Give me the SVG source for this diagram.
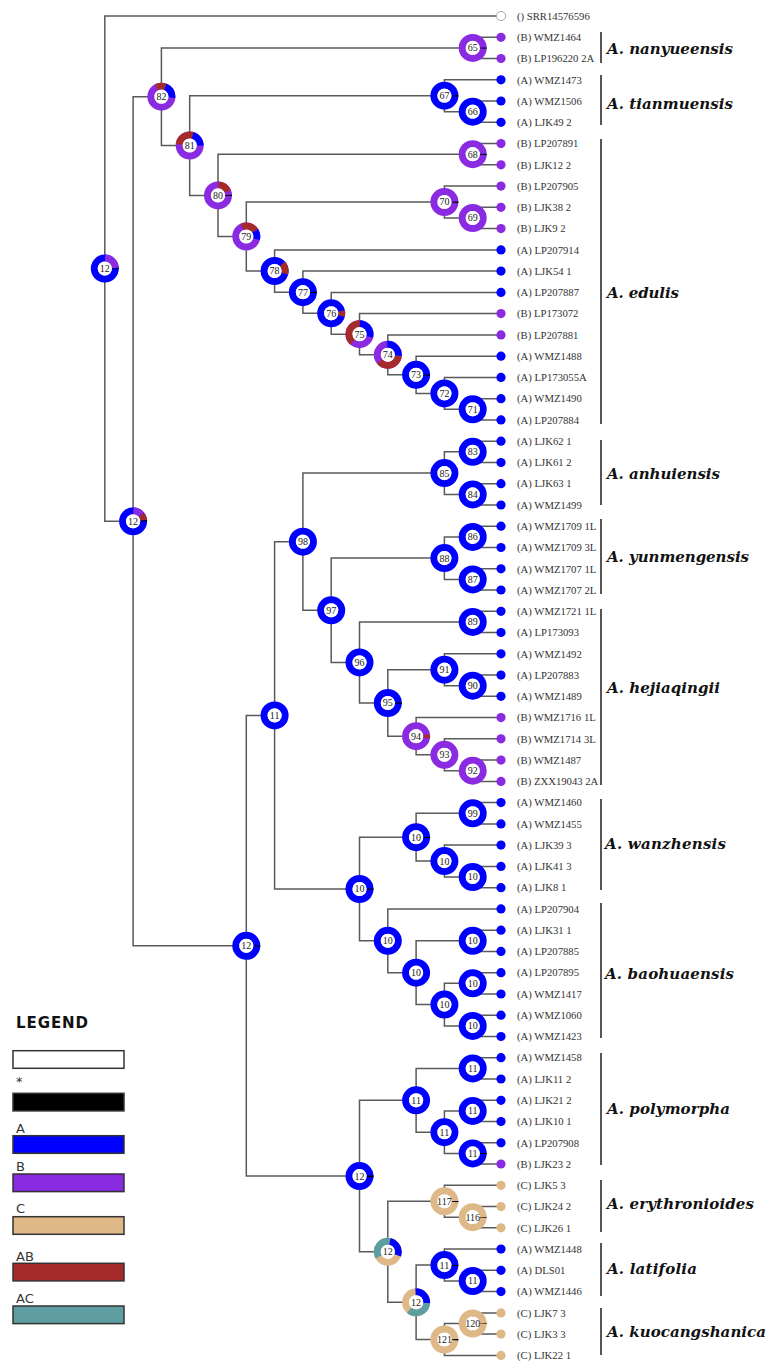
<svg xmlns="http://www.w3.org/2000/svg" width="769" height="1361" viewBox="0 0 769 1361">
<style>
.c{stroke:#5a5a5a;stroke-width:1.5;fill:none}
.r{fill:none;stroke-width:7}
.A{stroke:#0000ff}.B{stroke:#8a2be2}.C{stroke:#deb887}.AB{stroke:#a52a2a}.AC{stroke:#5f9ea0}.K{stroke:#000}
.w{fill:#fff}
.nl{font-family:"Liberation Serif",serif;font-size:10px;fill:#222;text-anchor:middle}
.lf{font-family:"Liberation Serif",serif;font-size:10.7px;fill:#333}
.fA{fill:#0000ff}.fB{fill:#8a2be2}.fC{fill:#deb887}
.sp{font-family:"DejaVu Serif",serif;font-weight:bold;font-style:italic;font-size:15px;fill:#111}
.bar{stroke:#555;stroke-width:2}
.lg{font-family:"DejaVu Sans",sans-serif;font-size:13px;fill:#333}
.box{stroke:#333;stroke-width:1.5}
</style>
<rect width="769" height="1361" fill="#fff"/>
<g id="connectors">
<path class="c" d="M501 16 H104.8 V521.3 H133.1"/>
<path class="c" d="M161.4 96.7 H133.1 V945.8 H246.3"/>
<path class="c" d="M472.7 47.9 H161.4 V145.5 H189.7"/>
<path class="c" d="M501 37.3 H472.7 V58.5 H501"/>
<path class="c" d="M444.4 95.7 H189.7 V195.4 H218"/>
<path class="c" d="M501 79.8 H444.4 V111.7 H472.7"/>
<path class="c" d="M501 101 H472.7 V122.3 H501"/>
<path class="c" d="M472.7 154.2 H218 V236.5 H246.3"/>
<path class="c" d="M501 143.6 H472.7 V164.8 H501"/>
<path class="c" d="M444.4 202 H246.3 V271 H274.6"/>
<path class="c" d="M501 186.1 H444.4 V218 H472.7"/>
<path class="c" d="M501 207.3 H472.7 V228.6 H501"/>
<path class="c" d="M501 249.9 H274.6 V292.2 H302.9"/>
<path class="c" d="M501 271.1 H302.9 V313.3 H331.2"/>
<path class="c" d="M501 292.4 H331.2 V334.2 H359.5"/>
<path class="c" d="M501 313.6 H359.5 V354.8 H387.8"/>
<path class="c" d="M501 334.9 H387.8 V374.8 H416.1"/>
<path class="c" d="M501 356.2 H416.1 V393.4 H444.4"/>
<path class="c" d="M501 377.4 H444.4 V409.3 H472.7"/>
<path class="c" d="M501 398.7 H472.7 V419.9 H501"/>
<path class="c" d="M274.6 715.4 H246.3 V1176.1 H359.5"/>
<path class="c" d="M302.9 541.7 H274.6 V889 H359.5"/>
<path class="c" d="M444.4 473.1 H302.9 V610.3 H331.2"/>
<path class="c" d="M472.7 451.8 H444.4 V494.4 H472.7"/>
<path class="c" d="M501 441.2 H472.7 V462.5 H501"/>
<path class="c" d="M501 483.7 H472.7 V505 H501"/>
<path class="c" d="M444.4 558.1 H331.2 V662.4 H359.5"/>
<path class="c" d="M472.7 536.9 H444.4 V579.4 H472.7"/>
<path class="c" d="M501 526.2 H472.7 V547.5 H501"/>
<path class="c" d="M501 568.8 H472.7 V590 H501"/>
<path class="c" d="M472.7 621.9 H359.5 V703 H387.8"/>
<path class="c" d="M501 611.3 H472.7 V632.5 H501"/>
<path class="c" d="M444.4 669.7 H387.8 V736.2 H416.1"/>
<path class="c" d="M501 653.8 H444.4 V685.7 H472.7"/>
<path class="c" d="M501 675.1 H472.7 V696.3 H501"/>
<path class="c" d="M501 717.6 H416.1 V754.8 H444.4"/>
<path class="c" d="M501 738.8 H444.4 V770.7 H472.7"/>
<path class="c" d="M501 760.1 H472.7 V781.4 H501"/>
<path class="c" d="M416.1 837.2 H359.5 V940.8 H387.8"/>
<path class="c" d="M472.7 813.3 H416.1 V861.1 H444.4"/>
<path class="c" d="M501 802.6 H472.7 V823.9 H501"/>
<path class="c" d="M501 845.1 H444.4 V877 H472.7"/>
<path class="c" d="M501 866.4 H472.7 V887.7 H501"/>
<path class="c" d="M501 908.9 H387.8 V972.7 H416.1"/>
<path class="c" d="M472.7 940.8 H416.1 V1004.6 H444.4"/>
<path class="c" d="M501 930.2 H472.7 V951.4 H501"/>
<path class="c" d="M472.7 983.3 H444.4 V1025.9 H472.7"/>
<path class="c" d="M501 972.7 H472.7 V994 H501"/>
<path class="c" d="M501 1015.2 H472.7 V1036.5 H501"/>
<path class="c" d="M416.1 1100.3 H359.5 V1251.8 H387.8"/>
<path class="c" d="M472.7 1068.4 H416.1 V1132.2 H444.4"/>
<path class="c" d="M501 1057.7 H472.7 V1079 H501"/>
<path class="c" d="M472.7 1110.9 H444.4 V1153.4 H472.7"/>
<path class="c" d="M501 1100.3 H472.7 V1121.5 H501"/>
<path class="c" d="M501 1142.8 H472.7 V1164 H501"/>
<path class="c" d="M444.4 1201.3 H387.8 V1302.3 H416.1"/>
<path class="c" d="M501 1185.3 H444.4 V1217.2 H472.7"/>
<path class="c" d="M501 1206.6 H472.7 V1227.8 H501"/>
<path class="c" d="M444.4 1265.1 H416.1 V1339.5 H444.4"/>
<path class="c" d="M501 1249.1 H444.4 V1281 H472.7"/>
<path class="c" d="M501 1270.3 H472.7 V1291.6 H501"/>
<path class="c" d="M472.7 1323.5 H444.4 V1355.4 H501"/>
<path class="c" d="M501 1312.9 H472.7 V1334.1 H501"/>
</g>

<!-- internal nodes -->
<g id="n-root"><circle class="r A" cx="104.8" cy="268.6" r="10.5"/><circle class="r B" cx="104.8" cy="268.6" r="10.5" stroke-dasharray="15.39 50.58" stroke-dashoffset="-49.48"/><circle class="r K" cx="104.8" cy="268.6" r="10.5" stroke-dasharray="1.28 64.69" stroke-dashoffset="-64.87"/><circle class="w" cx="104.8" cy="268.6" r="7.1"/><text class="nl" x="104.8" y="272">12</text></g>
<g id="n-12b"><circle class="r A" cx="133.1" cy="521.3" r="10.5"/><circle class="r B" cx="133.1" cy="521.3" r="10.5" stroke-dasharray="9.16 56.81" stroke-dashoffset="-49.48"/><circle class="r AB" cx="133.1" cy="521.3" r="10.5" stroke-dasharray="5.86 60.11" stroke-dashoffset="-58.64"/><circle class="r K" cx="133.1" cy="521.3" r="10.5" stroke-dasharray="1.28 64.69" stroke-dashoffset="-64.51"/><circle class="w" cx="133.1" cy="521.3" r="7.1"/><text class="nl" x="133.1" y="524.7">12</text></g>
<g id="n82"><circle class="r B" cx="161.4" cy="96.7" r="10.5"/><circle class="r AB" cx="161.4" cy="96.7" r="10.5" stroke-dasharray="9.16 56.81" stroke-dashoffset="-43.98"/><circle class="r A" cx="161.4" cy="96.7" r="10.5" stroke-dasharray="13.74 52.23" stroke-dashoffset="-53.15"/><circle class="w" cx="161.4" cy="96.7" r="7.1"/><text class="nl" x="161.4" y="100.1">82</text></g>
<g id="n81"><circle class="r B" cx="189.7" cy="145.5" r="10.5"/><circle class="r AB" cx="189.7" cy="145.5" r="10.5" stroke-dasharray="18.33 47.64" stroke-dashoffset="-33.90"/><circle class="r A" cx="189.7" cy="145.5" r="10.5" stroke-dasharray="13.74 52.23" stroke-dashoffset="-52.23"/><circle class="w" cx="189.7" cy="145.5" r="7.1"/><text class="nl" x="189.7" y="148.9">81</text></g>
<g id="n80"><circle class="r B" cx="218" cy="195.4" r="10.5"/><circle class="r AB" cx="218" cy="195.4" r="10.5" stroke-dasharray="11.91 54.06" stroke-dashoffset="-49.48"/><circle class="r K" cx="218" cy="195.4" r="10.5" stroke-dasharray="1.47 64.5" stroke-dashoffset="-65.06"/><circle class="w" cx="218" cy="195.4" r="7.1"/><text class="nl" x="218" y="198.8">80</text></g>
<g id="n79"><circle class="r B" cx="246.3" cy="236.5" r="10.5"/><circle class="r AB" cx="246.3" cy="236.5" r="10.5" stroke-dasharray="14.66 51.31" stroke-dashoffset="-44.90"/><circle class="r A" cx="246.3" cy="236.5" r="10.5" stroke-dasharray="9.16 56.81" stroke-dashoffset="-59.56"/><circle class="w" cx="246.3" cy="236.5" r="7.1"/><text class="nl" x="246.3" y="239.9">79</text></g>
<g id="n78"><circle class="r A" cx="274.6" cy="271" r="10.5"/><circle class="r AB" cx="274.6" cy="271" r="10.5" stroke-dasharray="11 54.97" stroke-dashoffset="-57.73"/><circle class="w" cx="274.6" cy="271" r="7.1"/><text class="nl" x="274.6" y="274.4">78</text></g>
<g id="n77"><circle class="r A" cx="302.9" cy="292.2" r="10.5"/><circle class="r K" cx="302.9" cy="292.2" r="10.5" stroke-dasharray="1.47 64.5" stroke-dashoffset="-65.24"/><circle class="w" cx="302.9" cy="292.2" r="7.1"/><text class="nl" x="302.9" y="295.6">77</text></g>
<g id="n76"><circle class="r A" cx="331.2" cy="313.3" r="10.5"/><circle class="r AB" cx="331.2" cy="313.3" r="10.5" stroke-dasharray="5.5 60.47" stroke-dashoffset="-63.22"/><circle class="w" cx="331.2" cy="313.3" r="7.1"/><text class="nl" x="331.2" y="316.7">76</text></g>
<g id="n75"><circle class="r B" cx="359.5" cy="334.2" r="10.5"/><circle class="r AB" cx="359.5" cy="334.2" r="10.5" stroke-dasharray="25.66 40.31" stroke-dashoffset="-23.82"/><circle class="r A" cx="359.5" cy="334.2" r="10.5" stroke-dasharray="19.24 46.73" stroke-dashoffset="-49.48"/><circle class="w" cx="359.5" cy="334.2" r="7.1"/><text class="nl" x="359.5" y="337.6">75</text></g>
<g id="n74"><circle class="r B" cx="387.8" cy="354.8" r="10.5"/><circle class="r A" cx="387.8" cy="354.8" r="10.5" stroke-dasharray="18.33 47.64" stroke-dashoffset="-48.56"/><circle class="r AB" cx="387.8" cy="354.8" r="10.5" stroke-dasharray="24.74 41.23" stroke-dashoffset="-0.92"/><circle class="w" cx="387.8" cy="354.8" r="7.1"/><text class="nl" x="387.8" y="358.2">74</text></g>
<g id="n73"><circle class="r A" cx="416.1" cy="374.8" r="10.5"/><circle class="r K" cx="416.1" cy="374.8" r="10.5" stroke-dasharray="1.47 64.5" stroke-dashoffset="-65.24"/><circle class="w" cx="416.1" cy="374.8" r="7.1"/><text class="nl" x="416.1" y="378.2">73</text></g>
<g id="n72"><circle class="r A" cx="444.4" cy="393.4" r="10.5"/><circle class="w" cx="444.4" cy="393.4" r="7.1"/><text class="nl" x="444.4" y="396.8">72</text></g>
<g id="n71"><circle class="r A" cx="472.7" cy="409.3" r="10.5"/><circle class="w" cx="472.7" cy="409.3" r="7.1"/><text class="nl" x="472.7" y="412.7">71</text></g>
<g id="n70"><circle class="r B" cx="444.4" cy="202" r="10.5"/><circle class="r K" cx="444.4" cy="202" r="10.5" stroke-dasharray="1.47 64.5" stroke-dashoffset="-65.24"/><circle class="w" cx="444.4" cy="202" r="7.1"/><text class="nl" x="444.4" y="205.4">70</text></g>
<g id="n69"><circle class="r B" cx="472.7" cy="218" r="10.5"/><circle class="w" cx="472.7" cy="218" r="7.1"/><text class="nl" x="472.7" y="221.4">69</text></g>
<g id="n68"><circle class="r B" cx="472.7" cy="154.2" r="10.5"/><circle class="r K" cx="472.7" cy="154.2" r="10.5" stroke-dasharray="1.47 64.5" stroke-dashoffset="-65.24"/><circle class="w" cx="472.7" cy="154.2" r="7.1"/><text class="nl" x="472.7" y="157.6">68</text></g>
<g id="n67"><circle class="r A" cx="444.4" cy="95.7" r="10.5"/><circle class="r K" cx="444.4" cy="95.7" r="10.5" stroke-dasharray="1.47 64.5" stroke-dashoffset="-65.24"/><circle class="w" cx="444.4" cy="95.7" r="7.1"/><text class="nl" x="444.4" y="99.1">67</text></g>
<g id="n66"><circle class="r A" cx="472.7" cy="111.7" r="10.5"/><circle class="w" cx="472.7" cy="111.7" r="7.1"/><text class="nl" x="472.7" y="115.1">66</text></g>
<g id="n65"><circle class="r B" cx="472.7" cy="47.9" r="10.5"/><circle class="r K" cx="472.7" cy="47.9" r="10.5" stroke-dasharray="1.47 64.5" stroke-dashoffset="-65.24"/><circle class="w" cx="472.7" cy="47.9" r="7.1"/><text class="nl" x="472.7" y="51.3">65</text></g>
<g id="n-12c"><circle class="r A" cx="246.3" cy="945.8" r="10.5"/><circle class="r K" cx="246.3" cy="945.8" r="10.5" stroke-dasharray="1.47 64.5" stroke-dashoffset="-65.24"/><circle class="w" cx="246.3" cy="945.8" r="7.1"/><text class="nl" x="246.3" y="949.2">12</text></g>
<g id="n110"><circle class="r A" cx="274.6" cy="715.4" r="10.5"/><circle class="w" cx="274.6" cy="715.4" r="7.1"/><text class="nl" x="274.6" y="718.8">11</text></g>
<g id="n98"><circle class="r A" cx="302.9" cy="541.7" r="10.5"/><circle class="w" cx="302.9" cy="541.7" r="7.1"/><text class="nl" x="302.9" y="545.1">98</text></g>
<g id="n85"><circle class="r A" cx="444.4" cy="473.1" r="10.5"/><circle class="w" cx="444.4" cy="473.1" r="7.1"/><text class="nl" x="444.4" y="476.5">85</text></g>
<g id="n83"><circle class="r A" cx="472.7" cy="451.8" r="10.5"/><circle class="w" cx="472.7" cy="451.8" r="7.1"/><text class="nl" x="472.7" y="455.2">83</text></g>
<g id="n84"><circle class="r A" cx="472.7" cy="494.4" r="10.5"/><circle class="w" cx="472.7" cy="494.4" r="7.1"/><text class="nl" x="472.7" y="497.8">84</text></g>
<g id="n97"><circle class="r A" cx="331.2" cy="610.3" r="10.5"/><circle class="w" cx="331.2" cy="610.3" r="7.1"/><text class="nl" x="331.2" y="613.7">97</text></g>
<g id="n88"><circle class="r A" cx="444.4" cy="558.1" r="10.5"/><circle class="w" cx="444.4" cy="558.1" r="7.1"/><text class="nl" x="444.4" y="561.5">88</text></g>
<g id="n86"><circle class="r A" cx="472.7" cy="536.9" r="10.5"/><circle class="w" cx="472.7" cy="536.9" r="7.1"/><text class="nl" x="472.7" y="540.3">86</text></g>
<g id="n87"><circle class="r A" cx="472.7" cy="579.4" r="10.5"/><circle class="w" cx="472.7" cy="579.4" r="7.1"/><text class="nl" x="472.7" y="582.8">87</text></g>
<g id="n96"><circle class="r A" cx="359.5" cy="662.4" r="10.5"/><circle class="w" cx="359.5" cy="662.4" r="7.1"/><text class="nl" x="359.5" y="665.8">96</text></g>
<g id="n89"><circle class="r A" cx="472.7" cy="621.9" r="10.5"/><circle class="w" cx="472.7" cy="621.9" r="7.1"/><text class="nl" x="472.7" y="625.3">89</text></g>
<g id="n95"><circle class="r A" cx="387.8" cy="703" r="10.5"/><circle class="r K" cx="387.8" cy="703" r="10.5" stroke-dasharray="1.47 64.5" stroke-dashoffset="-65.24"/><circle class="w" cx="387.8" cy="703" r="7.1"/><text class="nl" x="387.8" y="706.4">95</text></g>
<g id="n91"><circle class="r A" cx="444.4" cy="669.7" r="10.5"/><circle class="w" cx="444.4" cy="669.7" r="7.1"/><text class="nl" x="444.4" y="673.1">91</text></g>
<g id="n90"><circle class="r A" cx="472.7" cy="685.7" r="10.5"/><circle class="w" cx="472.7" cy="685.7" r="7.1"/><text class="nl" x="472.7" y="689.1">90</text></g>
<g id="n94"><circle class="r B" cx="416.1" cy="736.2" r="10.5"/><circle class="r AB" cx="416.1" cy="736.2" r="10.5" stroke-dasharray="3.67 62.3" stroke-dashoffset="-64.14"/><circle class="w" cx="416.1" cy="736.2" r="7.1"/><text class="nl" x="416.1" y="739.6">94</text></g>
<g id="n93"><circle class="r B" cx="444.4" cy="754.8" r="10.5"/><circle class="w" cx="444.4" cy="754.8" r="7.1"/><text class="nl" x="444.4" y="758.2">93</text></g>
<g id="n92"><circle class="r B" cx="472.7" cy="770.7" r="10.5"/><circle class="w" cx="472.7" cy="770.7" r="7.1"/><text class="nl" x="472.7" y="774.1">92</text></g>
<g id="n109"><circle class="r A" cx="359.5" cy="889" r="10.5"/><circle class="r K" cx="359.5" cy="889" r="10.5" stroke-dasharray="1.47 64.5" stroke-dashoffset="-65.24"/><circle class="w" cx="359.5" cy="889" r="7.1"/><text class="nl" x="359.5" y="892.4">10</text></g>
<g id="n102"><circle class="r A" cx="416.1" cy="837.2" r="10.5"/><circle class="r K" cx="416.1" cy="837.2" r="10.5" stroke-dasharray="1.47 64.5" stroke-dashoffset="-65.24"/><circle class="w" cx="416.1" cy="837.2" r="7.1"/><text class="nl" x="416.1" y="840.6">10</text></g>
<g id="n99"><circle class="r A" cx="472.7" cy="813.3" r="10.5"/><circle class="w" cx="472.7" cy="813.3" r="7.1"/><text class="nl" x="472.7" y="816.7">99</text></g>
<g id="n101"><circle class="r A" cx="444.4" cy="861.1" r="10.5"/><circle class="w" cx="444.4" cy="861.1" r="7.1"/><text class="nl" x="444.4" y="864.5">10</text></g>
<g id="n100"><circle class="r A" cx="472.7" cy="877" r="10.5"/><circle class="w" cx="472.7" cy="877" r="7.1"/><text class="nl" x="472.7" y="880.4">10</text></g>
<g id="n108"><circle class="r A" cx="387.8" cy="940.8" r="10.5"/><circle class="w" cx="387.8" cy="940.8" r="7.1"/><text class="nl" x="387.8" y="944.2">10</text></g>
<g id="n107"><circle class="r A" cx="416.1" cy="972.7" r="10.5"/><circle class="w" cx="416.1" cy="972.7" r="7.1"/><text class="nl" x="416.1" y="976.1">10</text></g>
<g id="n103"><circle class="r A" cx="472.7" cy="940.8" r="10.5"/><circle class="w" cx="472.7" cy="940.8" r="7.1"/><text class="nl" x="472.7" y="944.2">10</text></g>
<g id="n106"><circle class="r A" cx="444.4" cy="1004.6" r="10.5"/><circle class="w" cx="444.4" cy="1004.6" r="7.1"/><text class="nl" x="444.4" y="1008">10</text></g>
<g id="n104"><circle class="r A" cx="472.7" cy="983.3" r="10.5"/><circle class="w" cx="472.7" cy="983.3" r="7.1"/><text class="nl" x="472.7" y="986.7">10</text></g>
<g id="n105"><circle class="r A" cx="472.7" cy="1025.9" r="10.5"/><circle class="w" cx="472.7" cy="1025.9" r="7.1"/><text class="nl" x="472.7" y="1029.3">10</text></g>
<g id="n-12d"><circle class="r A" cx="359.5" cy="1176.1" r="10.5"/><circle class="r K" cx="359.5" cy="1176.1" r="10.5" stroke-dasharray="2.2 63.77" stroke-dashoffset="-64.87"/><circle class="w" cx="359.5" cy="1176.1" r="7.1"/><text class="nl" x="359.5" y="1179.5">12</text></g>
<g id="n115"><circle class="r A" cx="416.1" cy="1100.3" r="10.5"/><circle class="w" cx="416.1" cy="1100.3" r="7.1"/><text class="nl" x="416.1" y="1103.7">11</text></g>
<g id="n111"><circle class="r A" cx="472.7" cy="1068.4" r="10.5"/><circle class="w" cx="472.7" cy="1068.4" r="7.1"/><text class="nl" x="472.7" y="1071.8">11</text></g>
<g id="n114"><circle class="r A" cx="444.4" cy="1132.2" r="10.5"/><circle class="w" cx="444.4" cy="1132.2" r="7.1"/><text class="nl" x="444.4" y="1135.6">11</text></g>
<g id="n112"><circle class="r A" cx="472.7" cy="1110.9" r="10.5"/><circle class="w" cx="472.7" cy="1110.9" r="7.1"/><text class="nl" x="472.7" y="1114.3">11</text></g>
<g id="n113"><circle class="r A" cx="472.7" cy="1153.4" r="10.5"/><circle class="r K" cx="472.7" cy="1153.4" r="10.5" stroke-dasharray="1.47 64.5" stroke-dashoffset="-65.24"/><circle class="w" cx="472.7" cy="1153.4" r="7.1"/><text class="nl" x="472.7" y="1156.8">11</text></g>
<g id="n-12e"><circle class="r C" cx="387.8" cy="1251.8" r="10.5"/><circle class="r AC" cx="387.8" cy="1251.8" r="10.5" stroke-dasharray="23.82 42.15" stroke-dashoffset="-27.49"/><circle class="r A" cx="387.8" cy="1251.8" r="10.5" stroke-dasharray="18.33 47.64" stroke-dashoffset="-51.31"/><circle class="w" cx="387.8" cy="1251.8" r="7.1"/><text class="nl" x="387.8" y="1255.2">12</text></g>
<g id="n117"><circle class="r C" cx="444.4" cy="1201.3" r="10.5"/><circle class="r K" cx="444.4" cy="1201.3" r="10.5" stroke-dasharray="1.47 64.5" stroke-dashoffset="-65.24"/><circle class="w" cx="444.4" cy="1201.3" r="7.1"/><text class="nl" x="444.4" y="1204.7">117</text></g>
<g id="n116"><circle class="r C" cx="472.7" cy="1217.2" r="10.5"/><circle class="r K" cx="472.7" cy="1217.2" r="10.5" stroke-dasharray="1 64.97" stroke-dashoffset="-65.4"/><circle class="w" cx="472.7" cy="1217.2" r="7.1"/><text class="nl" x="472.7" y="1220.6">116</text></g>
<g id="n-12f"><circle class="r C" cx="416.1" cy="1302.3" r="10.5"/><circle class="r A" cx="416.1" cy="1302.3" r="10.5" stroke-dasharray="18.33 47.64" stroke-dashoffset="-48.56"/><circle class="r AC" cx="416.1" cy="1302.3" r="10.5" stroke-dasharray="22.91 43.06" stroke-dashoffset="-0.92"/><circle class="w" cx="416.1" cy="1302.3" r="7.1"/><text class="nl" x="416.1" y="1305.7">12</text></g>
<g id="n119"><circle class="r A" cx="444.4" cy="1265.1" r="10.5"/><circle class="r K" cx="444.4" cy="1265.1" r="10.5" stroke-dasharray="1.47 64.5" stroke-dashoffset="-65.24"/><circle class="w" cx="444.4" cy="1265.1" r="7.1"/><text class="nl" x="444.4" y="1268.5">11</text></g>
<g id="n118"><circle class="r A" cx="472.7" cy="1281" r="10.5"/><circle class="w" cx="472.7" cy="1281" r="7.1"/><text class="nl" x="472.7" y="1284.4">11</text></g>
<g id="n121"><circle class="r C" cx="444.4" cy="1339.5" r="10.5"/><circle class="r K" cx="444.4" cy="1339.5" r="10.5" stroke-dasharray="1.47 64.5" stroke-dashoffset="-65.24"/><circle class="w" cx="444.4" cy="1339.5" r="7.1"/><text class="nl" x="444.4" y="1342.9">121</text></g>
<g id="n120"><circle class="r C" cx="472.7" cy="1323.5" r="10.5"/><circle class="r K" cx="472.7" cy="1323.5" r="10.5" stroke-dasharray="1 64.97" stroke-dashoffset="-65.4"/><circle class="w" cx="472.7" cy="1323.5" r="7.1"/><text class="nl" x="472.7" y="1326.9">120</text></g>

<!-- leaves -->
<g id="leaf-SRR14576596"><circle cx="501" cy="16" r="4.6" fill="#fff" stroke="#aaa" stroke-width="1"/><text class="lf" x="517" y="19.7">() SRR14576596</text></g>
<g id="leaf-WMZ1464"><circle class="fB" cx="501" cy="37.3" r="4.6"/><text class="lf" x="517" y="41">(B) WMZ1464</text></g>
<g id="leaf-LP196220-2A"><circle class="fB" cx="501" cy="58.5" r="4.6"/><text class="lf" x="517" y="62.2">(B) LP196220 2A</text></g>
<g id="leaf-WMZ1473"><circle class="fA" cx="501" cy="79.8" r="4.6"/><text class="lf" x="517" y="83.5">(A) WMZ1473</text></g>
<g id="leaf-WMZ1506"><circle class="fA" cx="501" cy="101" r="4.6"/><text class="lf" x="517" y="104.7">(A) WMZ1506</text></g>
<g id="leaf-LJK49-2"><circle class="fA" cx="501" cy="122.3" r="4.6"/><text class="lf" x="517" y="126">(A) LJK49 2</text></g>
<g id="leaf-LP207891"><circle class="fB" cx="501" cy="143.6" r="4.6"/><text class="lf" x="517" y="147.3">(B) LP207891</text></g>
<g id="leaf-LJK12-2"><circle class="fB" cx="501" cy="164.8" r="4.6"/><text class="lf" x="517" y="168.5">(B) LJK12 2</text></g>
<g id="leaf-LP207905"><circle class="fB" cx="501" cy="186.1" r="4.6"/><text class="lf" x="517" y="189.8">(B) LP207905</text></g>
<g id="leaf-LJK38-2"><circle class="fB" cx="501" cy="207.3" r="4.6"/><text class="lf" x="517" y="211">(B) LJK38 2</text></g>
<g id="leaf-LJK9-2"><circle class="fB" cx="501" cy="228.6" r="4.6"/><text class="lf" x="517" y="232.3">(B) LJK9 2</text></g>
<g id="leaf-LP207914"><circle class="fA" cx="501" cy="249.9" r="4.6"/><text class="lf" x="517" y="253.6">(A) LP207914</text></g>
<g id="leaf-LJK54-1"><circle class="fA" cx="501" cy="271.1" r="4.6"/><text class="lf" x="517" y="274.8">(A) LJK54 1</text></g>
<g id="leaf-LP207887"><circle class="fA" cx="501" cy="292.4" r="4.6"/><text class="lf" x="517" y="296.1">(A) LP207887</text></g>
<g id="leaf-LP173072"><circle class="fB" cx="501" cy="313.6" r="4.6"/><text class="lf" x="517" y="317.3">(B) LP173072</text></g>
<g id="leaf-LP207881"><circle class="fB" cx="501" cy="334.9" r="4.6"/><text class="lf" x="517" y="338.6">(B) LP207881</text></g>
<g id="leaf-WMZ1488"><circle class="fA" cx="501" cy="356.2" r="4.6"/><text class="lf" x="517" y="359.9">(A) WMZ1488</text></g>
<g id="leaf-LP173055A"><circle class="fA" cx="501" cy="377.4" r="4.6"/><text class="lf" x="517" y="381.1">(A) LP173055A</text></g>
<g id="leaf-WMZ1490"><circle class="fA" cx="501" cy="398.7" r="4.6"/><text class="lf" x="517" y="402.4">(A) WMZ1490</text></g>
<g id="leaf-LP207884"><circle class="fA" cx="501" cy="419.9" r="4.6"/><text class="lf" x="517" y="423.6">(A) LP207884</text></g>
<g id="leaf-LJK62-1"><circle class="fA" cx="501" cy="441.2" r="4.6"/><text class="lf" x="517" y="444.9">(A) LJK62 1</text></g>
<g id="leaf-LJK61-2"><circle class="fA" cx="501" cy="462.5" r="4.6"/><text class="lf" x="517" y="466.2">(A) LJK61 2</text></g>
<g id="leaf-LJK63-1"><circle class="fA" cx="501" cy="483.7" r="4.6"/><text class="lf" x="517" y="487.4">(A) LJK63 1</text></g>
<g id="leaf-WMZ1499"><circle class="fA" cx="501" cy="505" r="4.6"/><text class="lf" x="517" y="508.7">(A) WMZ1499</text></g>
<g id="leaf-WMZ1709-1L"><circle class="fA" cx="501" cy="526.2" r="4.6"/><text class="lf" x="517" y="529.9">(A) WMZ1709 1L</text></g>
<g id="leaf-WMZ1709-3L"><circle class="fA" cx="501" cy="547.5" r="4.6"/><text class="lf" x="517" y="551.2">(A) WMZ1709 3L</text></g>
<g id="leaf-WMZ1707-1L"><circle class="fA" cx="501" cy="568.8" r="4.6"/><text class="lf" x="517" y="572.5">(A) WMZ1707 1L</text></g>
<g id="leaf-WMZ1707-2L"><circle class="fA" cx="501" cy="590" r="4.6"/><text class="lf" x="517" y="593.7">(A) WMZ1707 2L</text></g>
<g id="leaf-WMZ1721-1L"><circle class="fA" cx="501" cy="611.3" r="4.6"/><text class="lf" x="517" y="615">(A) WMZ1721 1L</text></g>
<g id="leaf-LP173093"><circle class="fA" cx="501" cy="632.5" r="4.6"/><text class="lf" x="517" y="636.2">(A) LP173093</text></g>
<g id="leaf-WMZ1492"><circle class="fA" cx="501" cy="653.8" r="4.6"/><text class="lf" x="517" y="657.5">(A) WMZ1492</text></g>
<g id="leaf-LP207883"><circle class="fA" cx="501" cy="675.1" r="4.6"/><text class="lf" x="517" y="678.8">(A) LP207883</text></g>
<g id="leaf-WMZ1489"><circle class="fA" cx="501" cy="696.3" r="4.6"/><text class="lf" x="517" y="700">(A) WMZ1489</text></g>
<g id="leaf-WMZ1716-1L"><circle class="fB" cx="501" cy="717.6" r="4.6"/><text class="lf" x="517" y="721.3">(B) WMZ1716 1L</text></g>
<g id="leaf-WMZ1714-3L"><circle class="fB" cx="501" cy="738.8" r="4.6"/><text class="lf" x="517" y="742.5">(B) WMZ1714 3L</text></g>
<g id="leaf-WMZ1487"><circle class="fB" cx="501" cy="760.1" r="4.6"/><text class="lf" x="517" y="763.8">(B) WMZ1487</text></g>
<g id="leaf-ZXX19043-2A"><circle class="fB" cx="501" cy="781.4" r="4.6"/><text class="lf" x="517" y="785.1">(B) ZXX19043 2A</text></g>
<g id="leaf-WMZ1460"><circle class="fA" cx="501" cy="802.6" r="4.6"/><text class="lf" x="517" y="806.3">(A) WMZ1460</text></g>
<g id="leaf-WMZ1455"><circle class="fA" cx="501" cy="823.9" r="4.6"/><text class="lf" x="517" y="827.6">(A) WMZ1455</text></g>
<g id="leaf-LJK39-3"><circle class="fA" cx="501" cy="845.1" r="4.6"/><text class="lf" x="517" y="848.8">(A) LJK39 3</text></g>
<g id="leaf-LJK41-3"><circle class="fA" cx="501" cy="866.4" r="4.6"/><text class="lf" x="517" y="870.1">(A) LJK41 3</text></g>
<g id="leaf-LJK8-1"><circle class="fA" cx="501" cy="887.7" r="4.6"/><text class="lf" x="517" y="891.4">(A) LJK8 1</text></g>
<g id="leaf-LP207904"><circle class="fA" cx="501" cy="908.9" r="4.6"/><text class="lf" x="517" y="912.6">(A) LP207904</text></g>
<g id="leaf-LJK31-1"><circle class="fA" cx="501" cy="930.2" r="4.6"/><text class="lf" x="517" y="933.9">(A) LJK31 1</text></g>
<g id="leaf-LP207885"><circle class="fA" cx="501" cy="951.4" r="4.6"/><text class="lf" x="517" y="955.1">(A) LP207885</text></g>
<g id="leaf-LP207895"><circle class="fA" cx="501" cy="972.7" r="4.6"/><text class="lf" x="517" y="976.4">(A) LP207895</text></g>
<g id="leaf-WMZ1417"><circle class="fA" cx="501" cy="994" r="4.6"/><text class="lf" x="517" y="997.7">(A) WMZ1417</text></g>
<g id="leaf-WMZ1060"><circle class="fA" cx="501" cy="1015.2" r="4.6"/><text class="lf" x="517" y="1018.9">(A) WMZ1060</text></g>
<g id="leaf-WMZ1423"><circle class="fA" cx="501" cy="1036.5" r="4.6"/><text class="lf" x="517" y="1040.2">(A) WMZ1423</text></g>
<g id="leaf-WMZ1458"><circle class="fA" cx="501" cy="1057.7" r="4.6"/><text class="lf" x="517" y="1061.4">(A) WMZ1458</text></g>
<g id="leaf-LJK11-2"><circle class="fA" cx="501" cy="1079" r="4.6"/><text class="lf" x="517" y="1082.7">(A) LJK11 2</text></g>
<g id="leaf-LJK21-2"><circle class="fA" cx="501" cy="1100.3" r="4.6"/><text class="lf" x="517" y="1104">(A) LJK21 2</text></g>
<g id="leaf-LJK10-1"><circle class="fA" cx="501" cy="1121.5" r="4.6"/><text class="lf" x="517" y="1125.2">(A) LJK10 1</text></g>
<g id="leaf-LP207908"><circle class="fA" cx="501" cy="1142.8" r="4.6"/><text class="lf" x="517" y="1146.5">(A) LP207908</text></g>
<g id="leaf-LJK23-2"><circle class="fB" cx="501" cy="1164" r="4.6"/><text class="lf" x="517" y="1167.7">(B) LJK23 2</text></g>
<g id="leaf-LJK5-3"><circle class="fC" cx="501" cy="1185.3" r="4.6"/><text class="lf" x="517" y="1189">(C) LJK5 3</text></g>
<g id="leaf-LJK24-2"><circle class="fC" cx="501" cy="1206.6" r="4.6"/><text class="lf" x="517" y="1210.3">(C) LJK24 2</text></g>
<g id="leaf-LJK26-1"><circle class="fC" cx="501" cy="1227.8" r="4.6"/><text class="lf" x="517" y="1231.5">(C) LJK26 1</text></g>
<g id="leaf-WMZ1448"><circle class="fA" cx="501" cy="1249.1" r="4.6"/><text class="lf" x="517" y="1252.8">(A) WMZ1448</text></g>
<g id="leaf-DLS01"><circle class="fA" cx="501" cy="1270.3" r="4.6"/><text class="lf" x="517" y="1274">(A) DLS01</text></g>
<g id="leaf-WMZ1446"><circle class="fA" cx="501" cy="1291.6" r="4.6"/><text class="lf" x="517" y="1295.3">(A) WMZ1446</text></g>
<g id="leaf-LJK7-3"><circle class="fC" cx="501" cy="1312.9" r="4.6"/><text class="lf" x="517" y="1316.6">(C) LJK7 3</text></g>
<g id="leaf-LJK3-3"><circle class="fC" cx="501" cy="1334.1" r="4.6"/><text class="lf" x="517" y="1337.8">(C) LJK3 3</text></g>
<g id="leaf-LJK22-1"><circle class="fC" cx="501" cy="1355.4" r="4.6"/><text class="lf" x="517" y="1359.1">(C) LJK22 1</text></g>

<!-- species clades -->
<g id="sp-nanyueensis"><line class="bar" x1="601" y1="32" x2="601" y2="63"/><text class="sp" x="607" y="53.5" textLength="126">A. nanyueensis</text></g>
<g id="sp-tianmuensis"><line class="bar" x1="601" y1="75" x2="601" y2="125"/><text class="sp" x="607" y="108.5" textLength="126">A. tianmuensis</text></g>
<g id="sp-edulis"><line class="bar" x1="601" y1="139" x2="601" y2="424"/><text class="sp" x="607" y="297.5" textLength="72">A. edulis</text></g>
<g id="sp-anhuiensis"><line class="bar" x1="601" y1="440" x2="601" y2="505"/><text class="sp" x="607" y="478.5" textLength="113">A. anhuiensis</text></g>
<g id="sp-yunmengensis"><line class="bar" x1="601" y1="519" x2="601" y2="594"/><text class="sp" x="607" y="561.5" textLength="142">A. yunmengensis</text></g>
<g id="sp-hejiaqingii"><line class="bar" x1="601" y1="609" x2="601" y2="785"/><text class="sp" x="607" y="693" textLength="113">A. hejiaqingii</text></g>
<g id="sp-wanzhensis"><line class="bar" x1="601" y1="799" x2="601" y2="890"/><text class="sp" x="605" y="848.5" textLength="121">A. wanzhensis</text></g>
<g id="sp-baohuaensis"><line class="bar" x1="601" y1="903" x2="601" y2="1038"/><text class="sp" x="605" y="978.5" textLength="129">A. baohuaensis</text></g>
<g id="sp-polymorpha"><line class="bar" x1="601" y1="1053" x2="601" y2="1165"/><text class="sp" x="607" y="1113.5" textLength="123">A. polymorpha</text></g>
<g id="sp-erythronioides"><line class="bar" x1="601" y1="1180" x2="601" y2="1232"/><text class="sp" x="607" y="1208.5" textLength="147">A. erythronioides</text></g>
<g id="sp-latifolia"><line class="bar" x1="601" y1="1243" x2="601" y2="1296"/><text class="sp" x="607" y="1273.5" textLength="90">A. latifolia</text></g>
<g id="sp-kuocangshanica"><line class="bar" x1="601" y1="1308" x2="601" y2="1355"/><text class="sp" x="607" y="1336.5" textLength="159">A. kuocangshanica</text></g>

<!-- legend -->
<g id="legend">
<text x="16" y="1027.5" font-family="DejaVu Sans, sans-serif" font-weight="bold" font-size="15" fill="#111" textLength="72">LEGEND</text>
<rect class="box" x="13" y="1050.7" width="111" height="17.6" fill="#fff"/>
<text class="lg" x="16" y="1086" font-size="10" fill="#666">*</text>
<rect class="box" x="13" y="1093.3" width="111" height="17.6" fill="#000"/>
<text class="lg" x="16" y="1132.7">A</text>
<rect class="box" x="13" y="1135.7" width="111" height="17.6" fill="#0000ff"/>
<text class="lg" x="16" y="1170.7">B</text>
<rect class="box" x="13" y="1174" width="111" height="17.6" fill="#8a2be2"/>
<text class="lg" x="16" y="1213.3">C</text>
<rect class="box" x="13" y="1216.7" width="111" height="17.6" fill="#deb887"/>
<text class="lg" x="16" y="1260.7">AB</text>
<rect class="box" x="13" y="1263.3" width="111" height="17.6" fill="#a52a2a"/>
<text class="lg" x="16" y="1303.3">AC</text>
<rect class="box" x="13" y="1306" width="111" height="17.6" fill="#5f9ea0"/>
</g>
</svg>
